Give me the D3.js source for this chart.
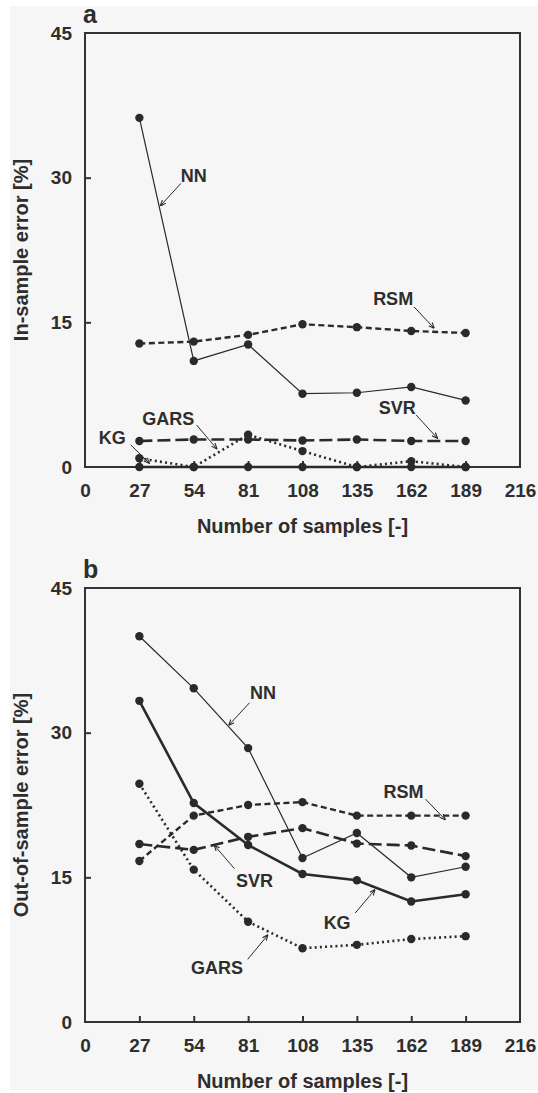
<!DOCTYPE html>
<html lang="en">
<head>
  <meta charset="UTF-8">
  <title>In-sample and out-of-sample error</title>
  <script src="https://d3js.org/d3.v7.min.js"></script>
  <style>
    body { margin: 0; background: #fff; }
    text { font-family: 'Liberation Sans', Arial, sans-serif; font-weight: bold; fill: #2e2e2e; }
    .frame { fill: none; stroke: #333; stroke-width: 2px; }
    .tick line { stroke: #333; stroke-width: 2px; }
    .series { fill: none; stroke: #2a2a2a; }
    .dot { fill: #2a2a2a; }
    .arrow { stroke: #2a2a2a; stroke-width: 1px; }
  </style>
</head>
<body>
  <div id="chart"></div>

  <script>
    // data
    const samples = [27, 54, 81, 108, 135, 162, 189];
    const xTicks = [0, 27, 54, 81, 108, 135, 162, 189, 216];
    const yTicks = [0, 15, 30, 45];

    // panel a: in-sample error [%]
    const inNN   = [36.2, 11.0, 12.7, 7.6, 7.7, 8.3, 6.9];
    const inRSM  = [12.8, 13.0, 13.7, 14.8, 14.5, 14.1, 13.9];
    const inSVR  = [2.7, 2.85, 2.85, 2.75, 2.85, 2.7, 2.7];
    const inGARS = [0.9, 0.0, 3.35, 1.65, 0.0, 0.6, 0.0];
    const inKG   = [0, 0, 0, 0, 0, 0, 0];

    // panel b: out-of-sample error [%]
    const outNN   = [40.0, 34.6, 28.4, 17.0, 19.6, 15.0, 16.1];
    const outRSM  = [16.7, 21.4, 22.5, 22.8, 21.4, 21.4, 21.4];
    const outSVR  = [18.45, 17.85, 19.2, 20.1, 18.5, 18.3, 17.2];
    const outGARS = [24.7, 15.8, 10.4, 7.65, 8.0, 8.6, 8.9];
    const outKG   = [33.3, 22.7, 18.35, 15.35, 14.7, 12.5, 13.25];

    // labels with arrows, in data units: text at (tx,ty), arrow from (x1,y1) to (x2,y2)
    const notesA = [
      { label: 'NN',   tx: 54,  ty: 30.2, x1: 47.6,  y1: 29.4, x2: 37.5,  y2: 27.1 },
      { label: 'RSM',  tx: 153, ty: 17.5, x1: 163.4, y1: 16.6, x2: 173.3, y2: 14.4 },
      { label: 'SVR',  tx: 155, ty: 6.1,  x1: 164.4, y1: 5.4,  x2: 174.9, y2: 3.0 },
      { label: 'GARS', tx: 41.4, ty: 5.05, x1: 55.4, y1: 4.35, x2: 65.4,  y2: 1.9 },
      { label: 'KG',   tx: 13.5, ty: 3.0, x1: 22.7,  y1: 2.3,  x2: 31.9,  y2: 0.4 }
    ];
    const notesB = [
      { label: 'NN',   tx: 88.4,  ty: 34.1, x1: 81.7,  y1: 33.1, x2: 71.5,  y2: 30.8 },
      { label: 'RSM',  tx: 158.2, ty: 23.9, x1: 169.1, y1: 23.1, x2: 178.8, y2: 21.0 },
      { label: 'SVR',  tx: 84.2,  ty: 14.6, x1: 74.2,  y1: 15.9, x2: 64.3,  y2: 18.3 },
      { label: 'KG',   tx: 125.2, ty: 10.3, x1: 134.2, y1: 11.3, x2: 143.9, y2: 13.7 },
      { label: 'GARS', tx: 65.6,  ty: 5.6,  x1: 80.8,  y1: 6.5,  x2: 90.7,  y2: 9.0 }
    ];

    const width = 538, height = 1093;
    const left = 85, plotW = 435, plotH = 434;

    const svg = d3.select('#chart').append('svg')
      .attr('width', width)
      .attr('height', height);

    svg.append('rect').attr('width', width).attr('height', height).attr('fill', '#fff');
    svg.append('rect').attr('x', 10).attr('y', 6).attr('width', width - 10).attr('height', 1084).attr('fill', '#f6f6f6');

    const defs = svg.append('defs');
    defs.append('marker')
      .attr('id', 'head')
      .attr('viewBox', '0 0 10 10')
      .attr('refX', 9).attr('refY', 5)
      .attr('markerWidth', 6).attr('markerHeight', 6)
      .attr('markerUnits', 'userSpaceOnUse')
      .attr('orient', 'auto')
      .append('path')
      .attr('d', 'M0,1 L10,5 L0,9')
      .attr('fill', 'none')
      .attr('stroke', '#2a2a2a')
      .attr('stroke-width', 1.8);

    const styles = {
      NN:   { width: 1.2, dash: null },
      RSM:  { width: 2.4, dash: '6,3.5' },
      SVR:  { width: 2.6, dash: '13,5' },
      GARS: { width: 2.6, dash: '2,3.2' },
      KG:   { width: 2.6, dash: null }
    };

    function drawPanel(top, letter, yTitle, series, notes) {
      const x = d3.scaleLinear().domain([0, 216]).range([left, left + plotW]);
      const y = d3.scaleLinear().domain([0, 45]).range([top + plotH, top]);
      const g = svg.append('g');

      // bottom ticks (pointing inward) and labels
      const xAxis = g.append('g')
        .attr('transform', `translate(0,${top + plotH})`)
        .call(d3.axisBottom(x).tickValues(xTicks).tickSize(-6).tickPadding(17).tickFormat(d3.format('d')));
      xAxis.select('.domain').remove();
      xAxis.selectAll('text').attr('font-size', 19).attr('font-family', null).attr('fill', null);
      xAxis.selectAll('.tick line').filter(d => d === 0 || d === 216).remove();

      // left ticks
      const yAxis = g.append('g')
        .attr('transform', `translate(${left},0)`)
        .call(d3.axisLeft(y).tickValues(yTicks).tickSize(-6).tickPadding(13));
      yAxis.select('.domain').remove();
      yAxis.selectAll('text').attr('font-size', 19).attr('font-family', null).attr('fill', null);
      yAxis.selectAll('.tick line').filter(d => d === 0 || d === 45).remove();

      g.append('rect').attr('class', 'frame')
        .attr('x', left).attr('y', top).attr('width', plotW).attr('height', plotH);

      // series lines and dots
      const line = d3.line().x((d, i) => x(samples[i])).y(d => y(d));
      series.forEach(s => {
        const st = styles[s.name];
        g.append('path').datum(s.values)
          .attr('class', 'series')
          .attr('d', line)
          .attr('stroke-width', st.width)
          .attr('stroke-dasharray', st.dash);
        g.selectAll(null).data(s.values).enter().append('circle')
          .attr('class', 'dot')
          .attr('cx', (d, i) => x(samples[i]))
          .attr('cy', d => y(d))
          .attr('r', 4.2);
      });

      // annotations
      notes.forEach(n => {
        g.append('line').attr('class', 'arrow')
          .attr('x1', x(n.x1)).attr('y1', y(n.y1))
          .attr('x2', x(n.x2)).attr('y2', y(n.y2))
          .attr('marker-end', 'url(#head)');
        g.append('text')
          .attr('x', x(n.tx)).attr('y', y(n.ty))
          .attr('dy', '0.35em')
          .attr('text-anchor', 'middle')
          .attr('font-size', 18)
          .text(n.label);
      });

      // panel letter
      g.append('text').attr('x', 83).attr('y', top - 10.5)
        .attr('font-size', 25).text(letter);

      // axis titles
      g.append('text')
        .attr('x', left + plotW / 2).attr('y', top + plotH + 66)
        .attr('text-anchor', 'middle').attr('font-size', 20)
        .text('Number of samples [-]');
      g.append('text')
        .attr('transform', `translate(28,${top + plotH / 2}) rotate(-90)`)
        .attr('text-anchor', 'middle').attr('font-size', 20)
        .text(yTitle);
    }

    drawPanel(33, 'a', 'In-sample error [%]', [
      { name: 'KG', values: inKG },
      { name: 'GARS', values: inGARS },
      { name: 'SVR', values: inSVR },
      { name: 'RSM', values: inRSM },
      { name: 'NN', values: inNN }
    ], notesA);

    drawPanel(588, 'b', 'Out-of-sample error [%]', [
      { name: 'KG', values: outKG },
      { name: 'GARS', values: outGARS },
      { name: 'SVR', values: outSVR },
      { name: 'RSM', values: outRSM },
      { name: 'NN', values: outNN }
    ], notesB);
  </script>
</body>
</html>
